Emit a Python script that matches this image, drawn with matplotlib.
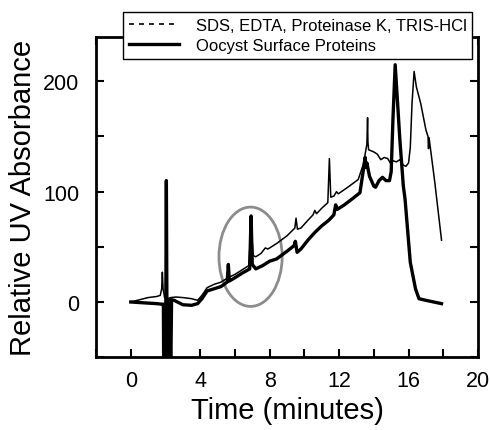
import numpy as np
import matplotlib
matplotlib.use("Agg")
import matplotlib.pyplot as plt
from matplotlib.patches import Ellipse
from matplotlib.lines import Line2D

plt.rcParams['font.family'] = ['Liberation Sans', 'DejaVu Sans']

# buffer blank: SDS, EDTA, Proteinase K, TRIS-HCl
blank_t = [0, 0.5, 1.0, 1.5, 1.7, 1.78, 1.82, 1.86, 1.95, 2.1, 2.3, 2.6, 3.0, 3.5,
           3.85, 4.1, 4.4, 4.8, 5.2, 5.6, 6.0, 6.4, 6.8, 6.93, 7.05, 7.2, 7.5, 7.75,
           7.9, 8.4, 9.0, 9.45, 9.52, 9.6, 9.8, 10.2, 10.5, 10.6, 10.7, 11.0, 11.35,
           11.44, 11.52, 11.7, 11.85, 11.95, 12.5, 13.1, 13.4, 13.6, 13.64, 13.66,
           13.7, 14.0, 14.2, 14.4, 14.6, 14.8, 14.95, 15.1, 15.3, 15.5, 15.7, 15.85,
           16.0, 16.1, 16.2, 16.32, 16.45, 16.7, 17.0, 17.12, 17.15, 17.18, 17.5, 17.9]
blank_v = [0, 2, 4, 5, 6, 12, 27, 12, 4, 3, 4, 4.5, 4, 3,
           1.5, 6, 13, 16, 18, 22, 25, 29, 33, 70, 42, 41, 44, 49,
           48, 53, 60, 67, 76, 66, 67, 74, 79, 83, 80, 85, 90,
           130, 95, 96, 100, 98, 104, 111, 125, 143, 167, 145,
           138, 136, 134, 129, 131, 130, 126, 128, 127, 129, 124, 123,
           126, 140, 180, 209, 195, 180, 156, 150, 139, 149, 110, 56]

# oocyst surface proteins
oocyst_t = [0, 0.5, 1.0, 1.5, 1.8, 1.88, 1.9, 1.95, 2.0, 2.05, 2.1, 2.15, 2.2, 2.25,
            2.3, 2.35, 2.5, 3.0, 3.5, 3.85, 4.1, 4.4, 4.8, 5.2, 5.55, 5.62, 5.68,
            6.0, 6.4, 6.85, 6.93, 7.0, 7.2, 7.6, 8.0, 8.4, 9.0, 9.4, 9.48, 9.58,
            9.8, 10.2, 10.6, 11.0, 11.4, 11.7, 11.8, 11.9, 12.3, 12.8, 13.2, 13.4,
            13.5, 13.55, 13.6, 13.75, 14.0, 14.1, 14.3, 14.5, 14.7, 14.9, 15.0,
            15.1, 15.23, 15.35, 15.5, 15.7, 15.8, 16.1, 16.4, 16.6, 17.0, 17.9]
oocyst_v = [0, -0.5, -1, -1.5, -2, -2, -70, -5, -70, 110, -70, 0, -70, 2,
            -70, 2, 1.5, -2.5, -3, -1.5, 3, 10, 12, 14, 18, 34, 19,
            22, 26, 30, 78, 34, 30, 33, 37, 39, 46, 51, 55, 45,
            48, 56, 63, 69, 74, 79, 88, 84, 88, 94, 99, 120,
            131, 122, 126, 114, 105, 104, 110, 113, 110, 110, 118,
            165, 215, 185, 147, 105, 93, 36, 12, 3, 1.5, -1.5]

fig = plt.figure(figsize=(4.9, 4.31), dpi=100)
ax = fig.add_axes([0.196, 0.169, 0.7795, 0.7424])

ax.plot(blank_t, blank_v, color="black", lw=1.1)
ax.plot(oocyst_t, oocyst_v, color="black", lw=2.4)

# highlight the peak region
ax.add_patch(Ellipse((6.9, 41), 3.64, 90, fill=False, edgecolor="#8c8c8c", lw=2))

ax.set_xlim(-2, 20)
ax.set_ylim(-50, 240)
ax.set_xticks([0, 4, 8, 12, 16, 20])
ax.set_xticks(np.arange(-2, 20, 2), minor=True)
ax.set_yticks([0, 100, 200])
ax.set_yticks([-50, 50, 150], minor=True)
ax.tick_params(which="both", direction="in", top=True, right=True,
               width=1.5, length=6, labelsize=15.5)
ax.tick_params(axis="x", pad=9)
ax.tick_params(axis="y", pad=12)
for s in ax.spines.values():
    s.set_linewidth(2)

ax.set_xlabel("Time (minutes)", fontsize=21)
ax.set_ylabel("Relative UV Absorbance", fontsize=21)
ax.xaxis.set_label_coords(0.5, -0.122)
ax.yaxis.set_label_coords(-0.155, 0.5)

handles = [Line2D([], [], color="black", lw=1.2, ls=(0, (3, 3))),
           Line2D([], [], color="black", lw=2.4)]
labels = ["SDS, EDTA, Proteinase K, TRIS-HCl", "Oocyst Surface Proteins"]
leg = ax.legend(handles, labels, loc="upper left",
                bbox_to_anchor=(123 / 490, 1 - 13 / 431),
                bbox_transform=fig.transFigure, fontsize=12,
                frameon=True, fancybox=False, framealpha=1, handlelength=3.0,
                borderpad=0.35, labelspacing=0.3, handletextpad=1.0,
                borderaxespad=0)
leg.get_frame().set_edgecolor("black")
leg.get_frame().set_linewidth(1)
leg.set_zorder(10)

fig.savefig("out.png", dpi=100)
